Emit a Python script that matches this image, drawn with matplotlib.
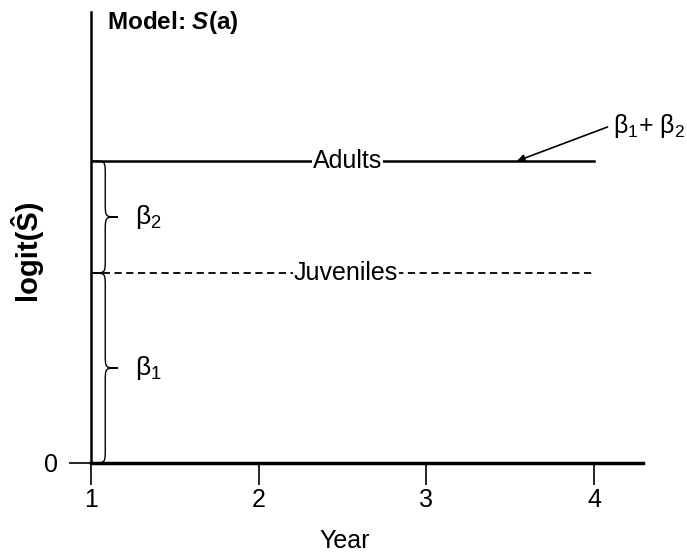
import matplotlib
matplotlib.use("Agg")
import matplotlib.pyplot as plt
from matplotlib.path import Path
from matplotlib.patches import PathPatch

plt.rcParams['font.family'] = ['Liberation Sans', 'DejaVu Sans']
plt.rcParams['mathtext.fontset'] = 'custom'
plt.rcParams['mathtext.rm'] = 'Liberation Sans'
plt.rcParams['mathtext.it'] = 'Liberation Sans:italic'
plt.rcParams['mathtext.bf'] = 'Liberation Sans:bold'
plt.rcParams['mathtext.bfit'] = 'Liberation Sans:bold:italic'

# data
years = [1, 2, 3, 4]
adults = [3.02, 3.02, 3.02, 3.02]
juveniles = [1.90, 1.90, 1.90, 1.90]
xticks = [1, 2, 3, 4]
yticks = [0]


def brace(ax, y0, y1, x0=1.012, xm=1.085, xtip=1.16, r=0.14):
    # curly brace opening to the left, tip pointing right
    ymid = (y0 + y1) / 2
    verts = [
        (x0, y0), (xm, y0), (xm, y0), (xm, y0 + r),
        (xm, ymid - r),
        (xm, ymid), (xm, ymid), (xtip, ymid),
        (xm, ymid), (xm, ymid), (xm, ymid + r),
        (xm, y1 - r),
        (xm, y1), (xm, y1), (x0, y1),
    ]
    codes = [Path.MOVETO, Path.CURVE4, Path.CURVE4, Path.CURVE4,
             Path.LINETO,
             Path.CURVE4, Path.CURVE4, Path.CURVE4,
             Path.CURVE4, Path.CURVE4, Path.CURVE4,
             Path.LINETO,
             Path.CURVE4, Path.CURVE4, Path.CURVE4]
    ax.add_patch(PathPatch(Path(verts, codes), fill=False, lw=1.0,
                           color='black', clip_on=False))


fig = plt.figure(figsize=(6.87, 5.55), dpi=100)
ax = fig.add_axes([91 / 687, 1 - 463 / 555, (643 - 91) / 687, (463 - 12) / 555])

ax.plot(years, adults, color='black', lw=1.8)
ax.plot(years, juveniles, color='black', lw=1.3, ls=(0, (4, 2.5)))

ax.text(2.53, adults[0], 'Adults', ha='center', va='center', fontsize=18,
        bbox=dict(facecolor='white', edgecolor='none', pad=0.5))
ax.text(2.52, juveniles[0], 'Juveniles', ha='center', va='center', fontsize=18,
        bbox=dict(facecolor='white', edgecolor='none', pad=0.5))

brace(ax, 0, juveniles[0])
brace(ax, juveniles[0], adults[0])
ax.text(1.26, juveniles[0] / 2, r'$\mathrm{\beta}_1$', fontsize=19, va='center')
ax.text(1.26, (juveniles[0] + adults[0]) / 2, r'$\mathrm{\beta}_2$', fontsize=19, va='center')

ax.annotate('', xy=(3.54, adults[0]), xytext=(4.08, 3.36),
            arrowprops=dict(arrowstyle='-|>', color='black', lw=1.2,
                            mutation_scale=11, shrinkA=0, shrinkB=0),
            annotation_clip=False)
ax.text(4.11, 3.37, r'$\mathrm{\beta}_1$+ $\mathrm{\beta}_2$', fontsize=18,
        va='center', ha='left')

ax.set_xlim(1, 1 + (643 - 91) / 167.7)
ax.set_ylim(0, 4.51)
ax.set_xticks(xticks)
ax.set_yticks(yticks)
ax.tick_params(axis='both', direction='out', length=16, width=1.2,
               labelsize=18)
ax.tick_params(axis='x', pad=2)
ax.tick_params(axis='y', pad=8)
ax.spines['top'].set_visible(False)
ax.spines['right'].set_visible(False)
ax.spines['bottom'].set_linewidth(2.5)
ax.spines['left'].set_linewidth(1.8)

ax.set_xlabel('Year', fontsize=18)
ax.xaxis.label.set_va('center')
ax.xaxis.set_label_coords((345 - 91) / 552, (463 - 541) / 451)
ax.set_ylabel('logit(Ŝ)', fontsize=21, fontweight='bold')
ax.yaxis.label.set_va('center')
ax.yaxis.set_label_coords((25 - 91) / 552, (463 - 250) / 451)

fig.text(107 / 687, 1 - 22 / 555, r'Model: $\mathbfit{S}$(a)', fontsize=17.5,
         fontweight='bold', va='center', ha='left')

fig.savefig('out.png', dpi=100)
